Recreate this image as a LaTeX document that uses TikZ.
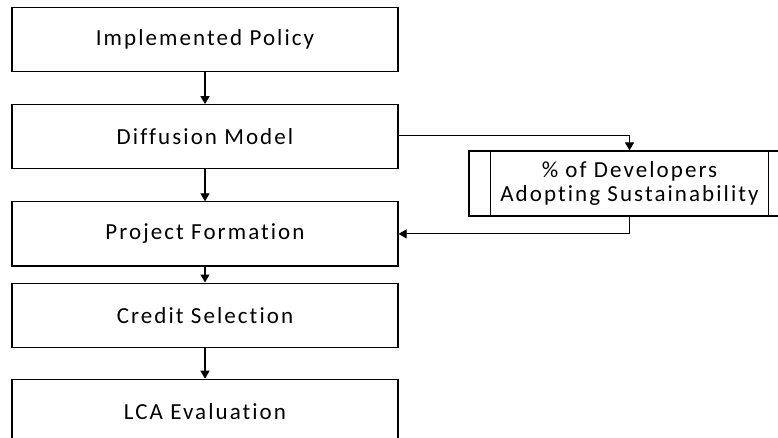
\documentclass[tikz,border=0pt]{standalone}
\usepackage{fontspec}
\setmainfont{Carlito}[LetterSpace=9,Ligatures=NoCommon]
\usetikzlibrary{positioning,arrows.meta}
\begin{document}
\begin{tikzpicture}
		[x=1pt,y=-1pt,
		>={Triangle[width=9pt,length=8pt]},
		stepnode/.style = {shape=rectangle, draw, line width=1.2pt, align=center, minimum width=386pt, minimum height=64pt, inner sep=0pt, font=\fontsize{23}{24.5}\selectfont},
		sidenode/.style = {stepnode, minimum width=321pt, minimum height=65pt}]
		\useasboundingbox (0,0) rectangle (778,438);
		\clip (0,0) rectangle (778,438);
		\node[stepnode] (policy) at (205,39.5) {Implemented Policy};
		\node[stepnode,below=32pt of policy] (diffusion) {Diffusion Model};
		\node[stepnode,below=32pt of diffusion] (project) {Project Formation};
		\node[stepnode,below=16pt of project] (credit) {Credit Selection};
		\node[stepnode,below=31pt of credit] (lca) {LCA Evaluation};
		\node[sidenode] (adopt) at (629.5,183.5) {\% of Developers\\Adopting Sustainability};
		\draw[line width=1.2pt] ([xshift=22pt]adopt.north west) -- ([xshift=22pt]adopt.south west)
			([xshift=-22pt]adopt.north east) -- ([xshift=-22pt]adopt.south east);
		% connectors
		\draw[->,line width=1.2pt] (policy) -- (diffusion);
		\draw[->,line width=1.2pt] (diffusion) -- (project);
		\draw[->,line width=1.2pt] (project) -- (credit);
		\draw[->,line width=1.2pt] (credit) -- (lca);
		\draw[->,line width=1.2pt] ([yshift=1.5pt]diffusion.east) -| (adopt.north);
		\draw[->,line width=1.2pt] (adopt.south) |- (project.east);
	\end{tikzpicture}
\end{document}
